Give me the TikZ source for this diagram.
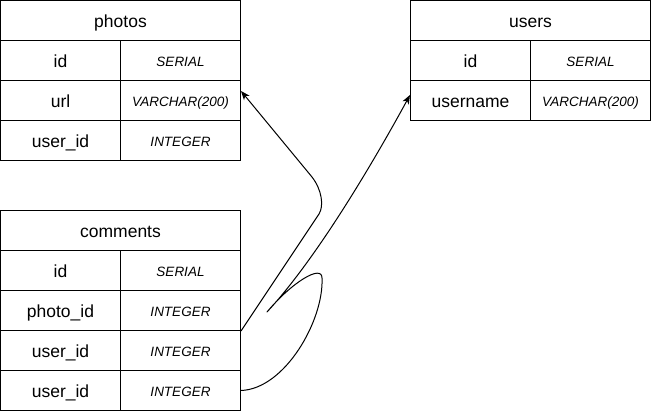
\documentclass[tikz,border=0pt]{standalone}
\usepackage{fontspec}
\setmainfont{Liberation Sans}
\usetikzlibrary{arrows.meta}
\begin{document}
\begin{tikzpicture}[x=1pt,y=-1pt,
  cell/.style={draw,line width=1pt,inner sep=0pt,minimum height=40pt,anchor=center},
  hdr/.style={cell,minimum width=240pt,font=\fontsize{17.5}{20}\selectfont,text height=15pt,text depth=0pt},
  fname/.style={cell,minimum width=120pt,font=\fontsize{17.5}{20}\selectfont,text height=15pt,text depth=0pt},
  ftype/.style={cell,minimum width=120pt,font=\fontsize{13.5}{16}\selectfont\itshape,text height=12.6pt,text depth=0pt},
  conn/.style={line width=1pt,line join=round},
  arr/.style={conn,-{Stealth[length=9pt,width=7pt,inset=2.5pt]}}]
\useasboundingbox[fill=white] (0,0) rectangle (651,411);

% photos
\node[hdr]   (ph)   at (120.5,20.5)  {photos};
\node[fname] (pidn) at (60.5,60.5)   {id};
\node[ftype] (pidt) at (180.5,60.5)  {SERIAL};
\node[fname] (purln) at (60.5,100.5) {url};
\node[ftype] (purlt) at (180.5,100.5) {VARCHAR(200)};
\node[fname] (puidn) at (60.5,140.5) {user\_id};
\node[ftype] (puidt) at (180.5,140.5) {INTEGER};

% users
\node[hdr]   (uh)   at (530.5,20.5)  {users};
\node[fname] (uidn) at (470.5,60.5)  {id};
\node[ftype] (uidt) at (590.5,60.5)  {SERIAL};
\node[fname] (uunn) at (470.5,100.5) {username};
\node[ftype] (uunt) at (590.5,100.5) {VARCHAR(200)};

% comments
\node[hdr]   (ch)    at (120.5,230.5) {comments};
\node[fname] (cidn)  at (60.5,270.5)  {id};
\node[ftype] (cidt)  at (180.5,270.5) {SERIAL};
\node[fname] (cpidn) at (60.5,310.5)  {photo\_id};
\node[ftype] (cpidt) at (180.5,310.5) {INTEGER};
\node[fname] (cuidn) at (60.5,350.5)  {user\_id};
\node[ftype] (cuidt) at (180.5,350.5) {INTEGER};
\node[fname] (cuid2n) at (60.5,390.5) {user\_id};
\node[ftype] (cuid2t) at (180.5,390.5) {INTEGER};

% connectors
\draw[arr] (cpidt.south east) -- (319,214)
  .. controls (324,206) and (322,190) .. (312,177)
  -- ([yshift=9.5pt]purlt.east);
\draw[arr] (cuid2t.east)
  .. controls (285,389) and (324,320) .. (322,278)
  .. controls (322,264) and (292,282) .. (267,312)
  .. controls (320,255) and (380,150) .. ([yshift=5.5pt]uunn.west);
\end{tikzpicture}
\end{document}
